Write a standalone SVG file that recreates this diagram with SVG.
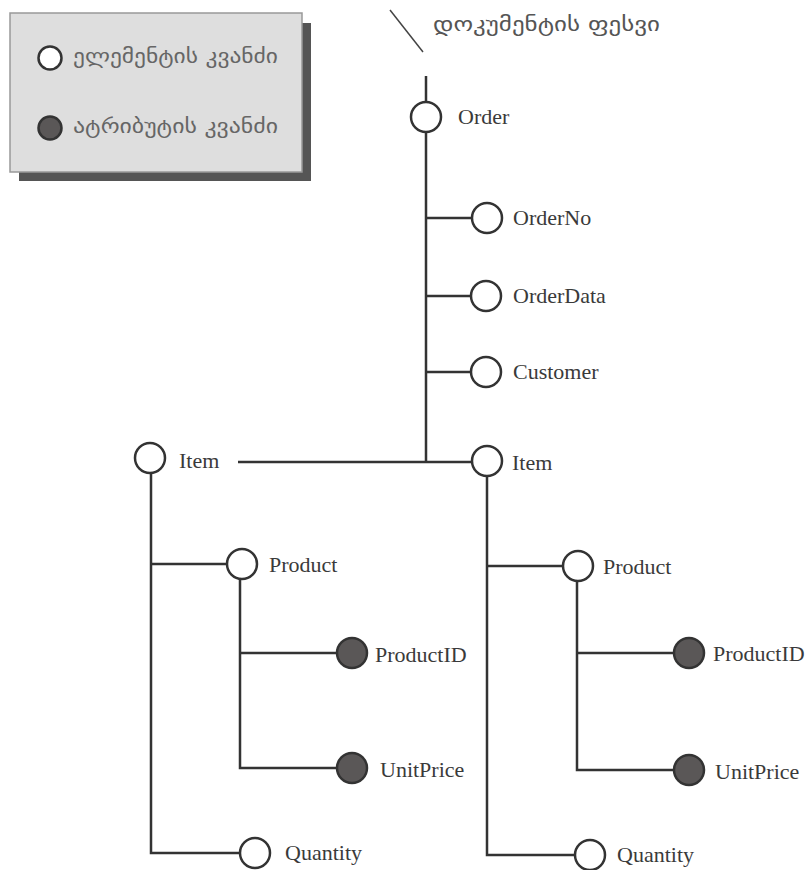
<svg xmlns="http://www.w3.org/2000/svg" width="811" height="870" viewBox="0 0 811 870">
<style>
.ln{stroke:#333;stroke-width:2.5;fill:none}
.el{fill:#fff;stroke:#333;stroke-width:2.5}
.at{fill:#5a5757;stroke:#333;stroke-width:2.5}
.lb{font-family:"Liberation Serif","Times New Roman",serif;font-size:22px;fill:#3a3a3a}
.ka{font-family:"DejaVu Sans","Noto Sans",sans-serif;font-size:20px;fill:#666}
</style>
<rect width="811" height="870" fill="#fff"/>
<g id="legend">
<rect x="19" y="23" width="292" height="158" fill="#555"/>
<rect x="10" y="13" width="292" height="159" fill="#dedede" stroke="#999" stroke-width="1.5"/>
<circle cx="50" cy="58" r="11.5" class="el"/>
<text x="73" y="63" class="ka" textLength="205" lengthAdjust="spacingAndGlyphs">ელემენტის კვანძი</text>
<circle cx="50" cy="128" r="11.5" class="at"/>
<text x="73" y="133" class="ka" textLength="205" lengthAdjust="spacingAndGlyphs">ატრიბუტის კვანძი</text>
</g>
<g id="root-label">
<line x1="390" y1="10" x2="423" y2="52" stroke="#444" stroke-width="1.5"/>
<text x="433" y="31" class="ka" style="fill:#555" textLength="227" lengthAdjust="spacingAndGlyphs">დოკუმენტის ფესვი</text>
</g>
<g id="connectors">
<line x1="426" y1="76" x2="426" y2="102" class="ln"/>
<line x1="426" y1="132" x2="426" y2="462" class="ln"/>
<line x1="426" y1="218" x2="472" y2="218" class="ln"/>
<line x1="426" y1="296" x2="471" y2="296" class="ln"/>
<line x1="426" y1="372" x2="471" y2="372" class="ln"/>
<line x1="238" y1="462" x2="472" y2="462" class="ln"/>
<polyline points="151,473 151,853 240,853" class="ln"/>
<line x1="151" y1="564" x2="227" y2="564" class="ln"/>
<polyline points="240,579 240,768 337,768" class="ln"/>
<line x1="240" y1="653" x2="337" y2="653" class="ln"/>
<polyline points="487,477 487,855 575,855" class="ln"/>
<line x1="487" y1="566" x2="563" y2="566" class="ln"/>
<polyline points="577,581 577,770 674,770" class="ln"/>
<line x1="577" y1="653" x2="674" y2="653" class="ln"/>
</g>
<g id="order"><circle cx="426" cy="117" r="15" class="el"/><text x="458" y="124" class="lb">Order</text></g>
<g id="orderno"><circle cx="487" cy="218" r="15" class="el"/><text x="513" y="225" class="lb">OrderNo</text></g>
<g id="orderdata"><circle cx="486" cy="296" r="15" class="el"/><text x="513" y="303" class="lb">OrderData</text></g>
<g id="customer"><circle cx="486" cy="372" r="15" class="el"/><text x="513" y="379" class="lb">Customer</text></g>
<g id="item1"><circle cx="150" cy="458" r="15" class="el"/><text x="179" y="468" class="lb">Item</text></g>
<g id="item2"><circle cx="487" cy="461" r="15" class="el"/><text x="512" y="470" class="lb">Item</text></g>
<g id="product1"><circle cx="242" cy="564" r="15" class="el"/><text x="269" y="572" class="lb">Product</text></g>
<g id="productid1"><circle cx="352" cy="653" r="15" class="at"/><text x="375" y="662" class="lb">ProductID</text></g>
<g id="unitprice1"><circle cx="352" cy="768" r="15" class="at"/><text x="380" y="777" class="lb">UnitPrice</text></g>
<g id="quantity1"><circle cx="255" cy="853" r="15" class="el"/><text x="285" y="860" class="lb">Quantity</text></g>
<g id="product2"><circle cx="578" cy="566" r="15" class="el"/><text x="603" y="574" class="lb">Product</text></g>
<g id="productid2"><circle cx="689" cy="653" r="15" class="at"/><text x="713" y="661" class="lb">ProductID</text></g>
<g id="unitprice2"><circle cx="689" cy="770" r="15" class="at"/><text x="715" y="779" class="lb">UnitPrice</text></g>
<g id="quantity2"><circle cx="590" cy="855" r="15" class="el"/><text x="617" y="862" class="lb">Quantity</text></g>
</svg>
